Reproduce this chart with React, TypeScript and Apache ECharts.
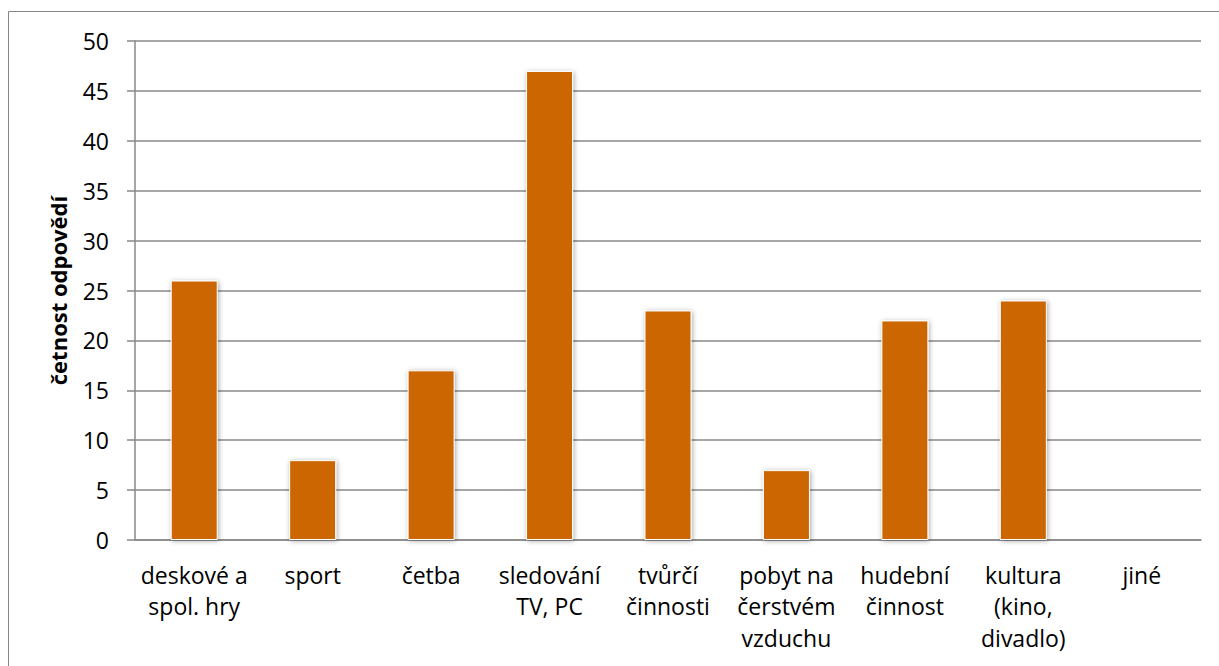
import React, { useEffect, useRef } from "react";
import * as echarts from "echarts";

const categories = [
  "deskové a\nspol. hry",
  "sport",
  "četba",
  "sledování\nTV, PC",
  "tvůrčí\nčinnosti",
  "pobyt na\nčerstvém\nvzduchu",
  "hudební\nčinnost",
  "kultura\n(kino,\ndivadlo)",
  "jiné",
];
const values = [26, 8, 17, 47, 23, 7, 22, 24, 0];
const yTitle = "četnost odpovědí";

export default function App() {
  const ref = useRef<HTMLDivElement>(null);
  useEffect(() => {
    if (!ref.current) return;
    const chart = echarts.init(ref.current, null, { renderer: "svg" });
    const font = "'Open Sans', sans-serif";
    chart.setOption({
      animation: false,
      backgroundColor: "#fff",
      graphic: [
        {
          type: "rect",
          shape: { x: 8.5, y: 11.5, width: 1300, height: 700 },
          style: { fill: "none", stroke: "#868686", lineWidth: 1 },
          silent: true,
          z: -1,
        },
      ],
      grid: { left: 135, top: 41, right: 18, bottom: 126, containLabel: false },
      xAxis: {
        type: "category",
        data: categories,
        axisLine: { show: true, lineStyle: { color: "#888", width: 1.5 } },
        axisTick: { show: false },
        axisLabel: {
          interval: 0,
          margin: 19,
          color: "#000",
          fontFamily: font,
          fontSize: 23,
          lineHeight: 31.5,
        },
      },
      yAxis: {
        type: "value",
        min: 0,
        max: 50,
        interval: 5,
        name: yTitle,
        nameLocation: "middle",
        nameGap: 66,
        nameRotate: 90,
        nameTextStyle: {
          color: "#000",
          fontFamily: font,
          fontSize: 22,
          fontWeight: "bold",
        },
        axisLine: { show: true, lineStyle: { color: "#888", width: 1.5 } },
        axisTick: { show: true, inside: false, length: 8, lineStyle: { color: "#888", width: 1.5 } },
        splitLine: { show: true, lineStyle: { color: "#888", width: 1.5 } },
        axisLabel: {
          color: "#000",
          fontFamily: font,
          fontSize: 23,
          margin: 26,
        },
      },
      series: [
        {
          type: "bar",
          data: values,
          barWidth: 47,
          itemStyle: {
            color: "#CC6600",
            borderColor: "#fff",
            borderWidth: 1,
            shadowBlur: 5,
            shadowColor: "rgba(0,0,0,0.35)",
            shadowOffsetX: 1,
            shadowOffsetY: 1,
          },
        },
      ],
    });
    return () => chart.dispose();
  }, []);
  return (
    <div
      ref={ref}
      style={{ position: "absolute", left: 0, top: 0, width: 1219, height: 666 }}
    />
  );
}
